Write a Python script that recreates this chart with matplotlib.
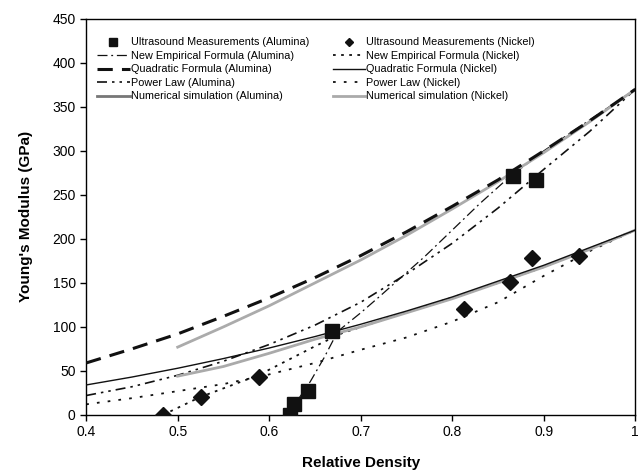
import numpy as np
import matplotlib
matplotlib.use("Agg")
import matplotlib.pyplot as plt

plt.rcParams['font.family'] = ['Liberation Sans', 'DejaVu Sans']

# Ultrasound measurements
al_rho = [0.623, 0.627, 0.642, 0.669, 0.866, 0.892]
al_E = [0, 12, 27, 95, 272, 267]
ni_rho = [0.484, 0.526, 0.589, 0.813, 0.863, 0.887, 0.939]
ni_E = [0, 20, 43, 120, 151, 178, 180]

# New empirical formula
ne_al_rho = [0.620, 0.630, 0.645, 0.660, 0.675, 0.700, 0.720, 0.770, 0.830, 0.860, 0.900, 0.950, 1.0]
ne_al_E = [0, 15, 38, 65, 95, 116, 134, 180, 240, 268, 300, 335, 370]
ne_ni_rho = [0.484, 0.524, 0.588, 0.620, 0.650, 0.680, 0.730, 0.790, 0.850, 0.900, 0.950, 1.0]
ne_ni_E = [0, 20, 45, 62, 78, 93, 110, 130, 150, 168, 189, 210]

# Quadratic formula
q_rho = [0.40, 0.45, 0.50, 0.55, 0.60, 0.65, 0.70, 0.75, 0.80, 0.85, 0.90, 0.95, 1.0]
q_al_E = [59, 75, 92, 112, 133, 156, 181, 208, 237, 267, 300, 334, 370]
q_ni_E = [34, 43, 53, 64, 76, 89, 103, 118, 134, 152, 170, 190, 210]

# Power law
pl_rho = [0.40, 0.45, 0.50, 0.55, 0.60, 0.65, 0.70, 0.75, 0.80, 0.85, 0.90, 0.95, 1.0]
pl_al_E = [22, 32, 45, 61, 80, 102, 128, 160, 195, 235, 279, 322, 370]
pl_ni_E = [12, 19, 27, 35, 46, 59, 74, 88, 106, 128, 158, 186, 210]

# Numerical simulation
ns_rho = [0.50, 0.55, 0.60, 0.65, 0.70, 0.75, 0.80, 0.85, 0.90, 0.95, 1.0]
ns_al_E = [77, 100, 124, 150, 176, 204, 234, 265, 298, 333, 370]
ns_ni_E = [44, 55, 70, 86, 100, 116, 132, 150, 168, 188, 210]

fig = plt.figure(figsize=(6.43, 4.72), dpi=100)
ax = fig.add_axes([0.134, 0.121, 0.854, 0.839])

ax.plot(al_rho, al_E, ls='none', marker='s', ms=10, color='#111111',
        label='Ultrasound Measurements (Alumina)', zorder=5)
ax.plot(ne_al_rho, ne_al_E, color='#111111', lw=0.9, dashes=(8, 3, 1.5, 3),
        label='New Empirical Formula (Alumina)')
ax.plot(q_rho, q_al_E, color='#111111', lw=2.2, dashes=(5, 3),
        label='Quadratic Formula (Alumina)', zorder=3)
ax.plot(pl_rho, pl_al_E, color='#111111', lw=1.2, dashes=(6, 3, 1.5, 3, 1.5, 3),
        label='Power Law (Alumina)')
ax.plot(ns_rho, ns_al_E, color='#ababab', lw=2,
        label='Numerical simulation (Alumina)', zorder=2)

ax.plot(ni_rho, ni_E, ls='none', marker='D', ms=8, color='#111111',
        label='Ultrasound Measurements (Nickel)', zorder=5)
ax.plot(ne_ni_rho, ne_ni_E, color='#111111', lw=1.3, dashes=(1.5, 3),
        label='New Empirical Formula (Nickel)')
ax.plot(q_rho, q_ni_E, color='#111111', lw=1.0,
        label='Quadratic Formula (Nickel)', zorder=3)
ax.plot(pl_rho, pl_ni_E, color='#111111', lw=1.3, dashes=(1.5, 4.5),
        label='Power Law (Nickel)')
ax.plot(ns_rho, ns_ni_E, color='#aaaaaa', lw=2,
        label='Numerical simulation (Nickel)', zorder=2)

ax.set_xlim(0.4, 1.0)
ax.set_ylim(0, 450)
ax.set_xticks(np.arange(0.4, 1.01, 0.1))
ax.set_xticklabels(['0.4', '0.5', '0.6', '0.7', '0.8', '0.9', '1'])
ax.set_yticks(np.arange(0, 451, 50))
ax.tick_params(direction='out', length=4, labelsize=10, width=1)
for s in ax.spines.values():
    s.set_linewidth(1)

ax.set_xlabel('Relative Density', fontsize=11, fontweight='bold', labelpad=12)
ax.set_ylabel("Young's Modulus (GPa)", fontsize=11, fontweight='bold', labelpad=14)

leg = ax.legend(ncol=2, loc='upper left', bbox_to_anchor=(0.02, 0.953),
                frameon=False, fontsize=7.8, handlelength=3.0, handletextpad=0.1,
                columnspacing=2.2, labelspacing=0.32, borderaxespad=0, borderpad=0,
                markerscale=0.55)
# darker handle for the alumina simulation entry
leg.get_lines()[4].set_color('#777777')

fig.savefig('out.png', dpi=100)
